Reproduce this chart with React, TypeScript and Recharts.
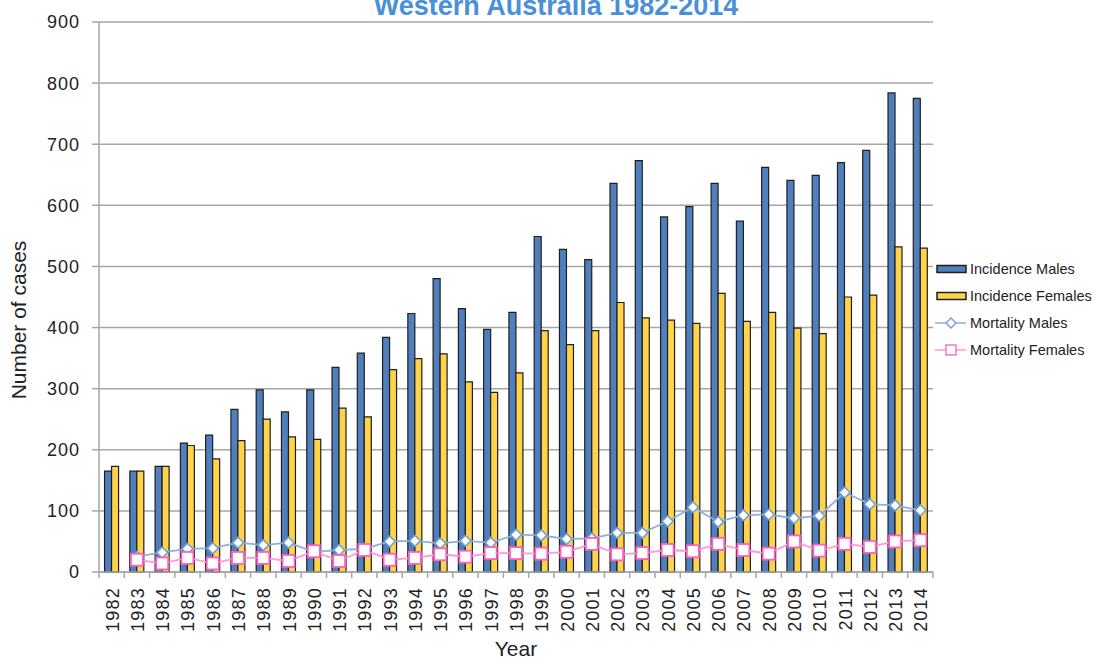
import React from 'react';
import { ComposedChart, Bar, Line, XAxis, YAxis, CartesianGrid, Legend, Label } from 'recharts';

const years = ['1982','1983','1984','1985','1986','1987','1988','1989','1990','1991','1992','1993','1994','1995','1996','1997','1998','1999','2000','2001','2002','2003','2004','2005','2006','2007','2008','2009','2010','2011','2012','2013','2014'];
const incidenceMales = [165,165,173,211,224,266,298,262,298,335,358,384,423,480,431,397,425,549,528,511,636,673,581,598,636,574,662,641,649,670,690,784,775];
const incidenceFemales = [173,165,173,207,185,215,250,221,217,268,254,331,349,357,311,294,326,395,372,395,441,416,412,407,456,410,425,399,390,450,453,532,530];
const mortalityMales: (number | null)[] = [null,25,32,38,39,48,44,48,33,36,38,50,51,47,51,48,61,60,54,55,64,64,83,106,82,93,94,88,92,130,111,109,101];
const mortalityFemales: (number | null)[] = [null,20,14,23,14,23,23,18,34,18,36,20,23,29,25,31,31,30,33,46,29,31,36,34,46,36,30,50,35,46,41,50,52];
const yTicks = [0,100,200,300,400,500,600,700,800,900];

const seriesNames = ['Incidence Males','Incidence Females','Mortality Males','Mortality Females'];

const data = years.map((y, i) => ({
  year: y,
  im: incidenceMales[i],
  ife: incidenceFemales[i],
  mm: mortalityMales[i],
  mf: mortalityFemales[i],
}));

const W = 1099;
const H = 661;
const M = { top: 22, right: 166, bottom: 0, left: 0 };
const Y_W = 99;
const X_H = 89;
const FONT = '"Liberation Sans", Arial, Helvetica, sans-serif';
const AXIS = '#a6a6a6';
const TEXT = '#222';
const BLUE = '#4F80BD';
const YELLOW = '#FFD34A';
const BAR_STROKE = '#1f1f1f';
const MM_LINE = '#8BB0DE';
const MM_MARK = '#6E9BD6';
const MF_LINE = '#FF9AD2';
const MF_MARK = '#FF5FC2';

const TICK_SIZE = 6;
const TICK_MARGIN = 9;
const fallbackHalf = (W - M.right - M.left - Y_W) / years.length / 2;

const XTick = (props: any) => {
  const { x, y, payload, index } = props;
  const half = payload && payload.offset > 0 ? payload.offset : fallbackHalf;
  const axisY = y - TICK_SIZE - TICK_MARGIN;
  return (
    <g>
      <line x1={x - half} x2={x - half} y1={axisY} y2={axisY + TICK_SIZE} stroke={AXIS} strokeWidth={1.5} />
      {index === years.length - 1 && (
        <line x1={x + half} x2={x + half} y1={axisY} y2={axisY + TICK_SIZE} stroke={AXIS} strokeWidth={1.5} />
      )}
      <text
        x={0}
        y={0}
        transform={`translate(${x + 1},${y}) rotate(-90)`}
        textAnchor="end"
        dominantBaseline="central"
        fontFamily={FONT}
        fontSize={18}
        letterSpacing={1.2}
        fill={TEXT}
      >
        {payload.value}
      </text>
    </g>
  );
};

const Diamond = (props: any) => {
  const { cx, cy, value } = props;
  if (value == null || cx == null || cy == null) return null;
  const r = 5.5;
  return (
    <path
      d={`M${cx},${cy - r}L${cx + r},${cy}L${cx},${cy + r}L${cx - r},${cy}Z`}
      fill="#fff"
      stroke={MM_MARK}
      strokeWidth={1.5}
    />
  );
};

const Square = (props: any) => {
  const { cx, cy, value } = props;
  if (value == null || cx == null || cy == null) return null;
  const s = 6;
  return <rect x={cx - s} y={cy - s} width={2 * s} height={2 * s} fill="#fff" stroke={MF_MARK} strokeWidth={1.8} />;
};

const LegendContent = () => {
  const rowH = 27;
  const items = [
    { name: seriesNames[0], kind: 'bar', color: BLUE },
    { name: seriesNames[1], kind: 'bar', color: YELLOW },
    { name: seriesNames[2], kind: 'diamond', color: MM_LINE },
    { name: seriesNames[3], kind: 'square', color: MF_LINE },
  ];
  return (
    <div style={{ fontFamily: FONT, fontSize: 14.5, color: TEXT }}>
      {items.map((it) => (
        <div key={it.name} style={{ display: 'flex', alignItems: 'center', height: rowH }}>
          <svg width={34} height={14} style={{ flex: 'none' }}>
            {it.kind === 'bar' && (
              <rect x={2} y={3.5} width={29} height={7} fill={it.color} stroke={BAR_STROKE} strokeWidth={1.5} />
            )}
            {it.kind === 'diamond' && (
              <g>
                <line x1={0} x2={31} y1={7} y2={7} stroke={it.color} strokeWidth={1.5} />
                <path d="M16,2L21,7L16,12L11,7Z" fill="#fff" stroke={MM_MARK} strokeWidth={1.3} />
              </g>
            )}
            {it.kind === 'square' && (
              <g>
                <line x1={0} x2={31} y1={7} y2={7} stroke={it.color} strokeWidth={1.5} />
                <rect x={11} y={2} width={10} height={10} fill="#fff" stroke={MF_MARK} strokeWidth={1.3} />
              </g>
            )}
          </svg>
          <span style={{ marginLeft: 1, whiteSpace: 'nowrap' }}>{it.name}</span>
        </div>
      ))}
    </div>
  );
};

export default function App() {
  return (
    <div style={{ position: 'absolute', left: 0, top: 0, width: W, height: H, background: '#fff' }}>
      <ComposedChart width={W} height={H} data={data} margin={M} barCategoryGap="22%" barGap={0}>
        <text
          x={556}
          y={15}
          textAnchor="middle"
          fontFamily={FONT}
          fontWeight="bold"
          fontSize={27}
          fill="#4A90D9"
        >
          Western Australia 1982-2014
        </text>
        <CartesianGrid vertical={false} stroke={AXIS} strokeWidth={1.5} />
        <XAxis
          dataKey="year"
          type="category"
          height={X_H}
          interval={0}
          tickSize={TICK_SIZE}
          tickMargin={TICK_MARGIN}
          tickLine={false}
          axisLine={{ stroke: AXIS, strokeWidth: 1.5 }}
          tick={<XTick />}
        >
          <Label
            content={() => (
              <text x={516} y={656} textAnchor="middle" fontFamily={FONT} fontSize={21} fill={TEXT}>
                Year
              </text>
            )}
          />
        </XAxis>
        <YAxis
          type="number"
          domain={[0, 900]}
          ticks={yTicks}
          interval={0}
          width={Y_W}
          tickSize={7}
          tickMargin={12}
          tickLine={{ stroke: AXIS, strokeWidth: 1.5 }}
          axisLine={{ stroke: AXIS, strokeWidth: 1.5 }}
          tick={{ fontFamily: FONT, fontSize: 18, fill: TEXT, letterSpacing: 1 }}
        >
          <Label
            content={() => (
              <text
                x={0}
                y={0}
                transform="translate(26,320) rotate(-90)"
                textAnchor="middle"
                fontFamily={FONT}
                fontSize={21}
                fill={TEXT}
              >
                Number of cases
              </text>
            )}
          />
        </YAxis>
        <Legend
          layout="vertical"
          align="center"
          verticalAlign="middle"
          wrapperStyle={{ left: 935, top: 255, width: 164 }}
          content={<LegendContent />}
        />
        <Bar dataKey="im" name={seriesNames[0]} fill={BLUE} stroke={BAR_STROKE} strokeWidth={1.2} isAnimationActive={false} />
        <Bar dataKey="ife" name={seriesNames[1]} fill={YELLOW} stroke={BAR_STROKE} strokeWidth={1.2} isAnimationActive={false} />
        <Line
          dataKey="mm"
          name={seriesNames[2]}
          stroke={MM_LINE}
          strokeWidth={1.8}
          dot={<Diamond />}
          activeDot={false}
          connectNulls={false}
          isAnimationActive={false}
        />
        <Line
          dataKey="mf"
          name={seriesNames[3]}
          stroke={MF_LINE}
          strokeWidth={1.8}
          dot={<Square />}
          activeDot={false}
          connectNulls={false}
          isAnimationActive={false}
        />
      </ComposedChart>
    </div>
  );
}
